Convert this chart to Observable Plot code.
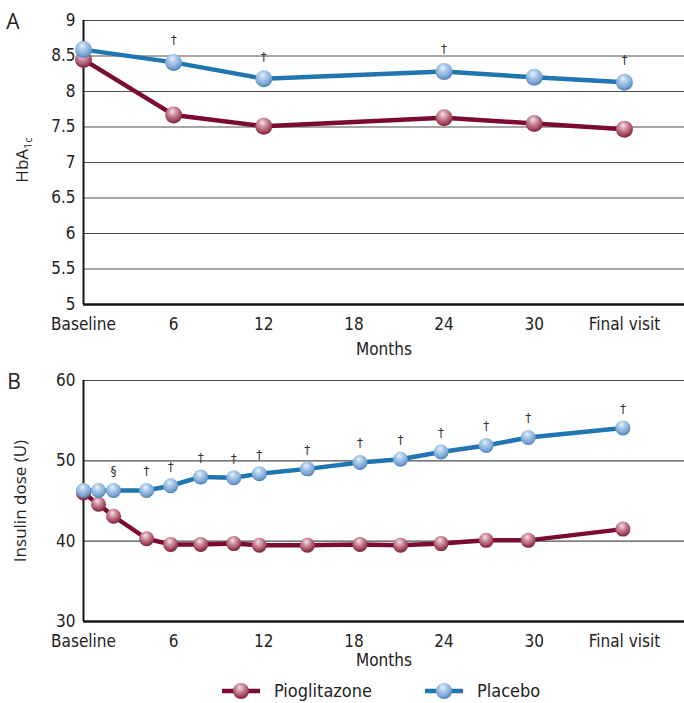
<!DOCTYPE html>
<html>
<head>
<meta charset="utf-8">
<script src="https://cdn.jsdelivr.net/npm/d3@7"></script>
<script src="https://cdn.jsdelivr.net/npm/@observablehq/plot@0.6"></script>
<style>
  body { margin: 0; background: #fff; }
  #chart { position: relative; width: 684px; height: 703px; background: #fff; overflow: hidden; }
  #chart svg { display: block; }
  .legend { position: absolute; left: 0; top: 675px; width: 684px; height: 28px;
    font-family: "Liberation Sans Narrow", "DejaVu Sans Condensed", "Open Sans", sans-serif; font-size: 18px; color: #222; }
  .legend .item { position: absolute; top: 5px; display: flex; align-items: center; }
  .legend .item span { margin-left: 14px; }
</style>
</head>
<body>
<svg width="0" height="0" style="position:absolute">
  <defs>
    <radialGradient id="gradRed" cx="0.45" cy="0.35" r="0.7" fx="0.42" fy="0.28">
      <stop offset="0%" stop-color="#f8e4e8"/>
      <stop offset="30%" stop-color="#d29aa7"/>
      <stop offset="70%" stop-color="#a44a60"/>
      <stop offset="100%" stop-color="#6f1232"/>
    </radialGradient>
    <radialGradient id="gradBlue" cx="0.45" cy="0.35" r="0.7" fx="0.42" fy="0.28">
      <stop offset="0%" stop-color="#eaf3fc"/>
      <stop offset="30%" stop-color="#b0cdea"/>
      <stop offset="70%" stop-color="#7aa6d4"/>
      <stop offset="100%" stop-color="#3b72b0"/>
    </radialGradient>
  </defs>
</svg>
<div id="chart"></div>
<script>
// ---- Data ----
const xTickValues = [0, 6, 12, 18, 24, 30, 36];
const xTickLabels = ["Baseline", "6", "12", "18", "24", "30", "Final visit"];

// Panel A: HbA1c
const monthsA = [0, 6, 12, 24, 30, 36];
const hba1cPioglitazone = [8.45, 7.67, 7.51, 7.63, 7.55, 7.47];
const hba1cPlacebo = [8.59, 8.41, 8.18, 8.28, 8.20, 8.13];
const sigA = ["", "†", "†", "†", "", "†"];
const yTicksA = [5, 5.5, 6, 6.5, 7, 7.5, 8, 8.5, 9];

// Panel B: Insulin dose (U)
const monthsB = [0, 1, 2, 4.2, 5.8, 7.8, 10, 11.7, 14.9, 18.4, 21.1, 23.8, 26.8, 29.6, 35.9];
const insulinPioglitazone = [46.0, 44.6, 43.1, 40.3, 39.6, 39.6, 39.7, 39.5, 39.5, 39.6, 39.5, 39.7, 40.1, 40.1, 41.5];
const insulinPlacebo = [46.3, 46.3, 46.3, 46.3, 46.9, 48.0, 47.9, 48.4, 49.0, 49.8, 50.2, 51.1, 51.9, 52.9, 54.1];
const sigB = ["", "", "§", "†", "†", "†", "†", "†", "†", "†", "†", "†", "†", "†", "†"];
const yTicksB = [30, 40, 50, 60];

const seriesNames = ["Pioglitazone", "Placebo"];
const seriesColors = ["#7b0b34", "#1f76b0"];
const seriesGrads = ["url(#gradRed)", "url(#gradBlue)"];

// ---- Build tables ----
const dataA = monthsA.map((m, i) => ({month: m, pio: hba1cPioglitazone[i], placebo: hba1cPlacebo[i], sig: sigA[i]}));
const dataB = monthsB.map((m, i) => ({month: m, pio: insulinPioglitazone[i], placebo: insulinPlacebo[i], sig: sigB[i]}));

const tickFont = '"Liberation Sans Narrow", "DejaVu Sans Condensed", "Open Sans", sans-serif';
const labelFont = '"Open Sans", "Liberation Sans", sans-serif';
const xFormat = d => xTickLabels[xTickValues.indexOf(d)];

function panel(data, opts) {
  return Plot.plot({
    width: 684,
    height: opts.height,
    marginLeft: 83,
    marginRight: 0,
    marginTop: opts.marginTop,
    marginBottom: opts.marginBottom,
    style: {fontFamily: tickFont, fontSize: "17px", color: "#222", background: "transparent", overflow: "visible"},
    x: {domain: [0, 40], ticks: xTickValues, tickFormat: xFormat, tickSize: 0, tickPadding: 13,
        label: "Months", labelAnchor: "center", labelOffset: opts.xLabelOffset, labelArrow: "none"},
    y: {domain: opts.yDomain, ticks: opts.yTicks, tickFormat: d => String(d), tickSize: 0, tickPadding: 8,
        label: opts.yLabel, labelAnchor: "center", labelOffset: 70, labelArrow: "none"},
    marks: [
      Plot.gridY(opts.yTicks, {stroke: "#3a3a3a", strokeOpacity: 0.9, strokeWidth: 1.2}),
      Plot.ruleX([0], {y1: opts.yDomain[0], y2: opts.yDomain[1], stroke: "#151515", strokeWidth: 2}),
      Plot.ruleY([opts.yDomain[0]], {stroke: "#151515", strokeWidth: 2.5}),
      Plot.line(data, {x: "month", y: "pio", stroke: seriesColors[0], strokeWidth: 4.5}),
      Plot.dot(data, {x: "month", y: "pio", r: opts.r, fill: seriesGrads[0], stroke: "none"}),
      Plot.line(data, {x: "month", y: "placebo", stroke: seriesColors[1], strokeWidth: 4.5}),
      Plot.dot(data, {x: "month", y: "placebo", r: opts.r, fill: seriesGrads[1], stroke: "none"}),
      Plot.text(data, {x: "month", y: "placebo", text: "sig", dy: opts.sigDy, fontSize: 12, fill: "#333",
        fontFamily: '"DejaVu Sans", sans-serif'})
    ]
  });
}

const chart = document.getElementById("chart");

const plotA = panel(dataA, {height: 365, marginTop: 20, marginBottom: 61, yDomain: [5, 9], yTicks: yTicksA,
  yLabel: null, r: 8.5, sigDy: -22, xLabelOffset: 50});
const plotB = panel(dataB, {height: 310, marginTop: 15, marginBottom: 54, yDomain: [30, 60], yTicks: yTicksB,
  yLabel: "Insulin dose (U)", r: 7.5, sigDy: -19, xLabelOffset: 44});

chart.appendChild(plotA);
chart.appendChild(plotB);

// Regular font for the y label of B
d3.select(plotB).selectAll("g[aria-label='y-axis label'] text").attr("font-family", labelFont).attr("font-size", 17);

// Panel letters and HbA1c label
const sA = d3.select(plotA);
sA.append("text").attr("x", 13).attr("y", 29).attr("font-family", labelFont).attr("font-size", 21).attr("fill", "#222").text("A");
const yl = sA.append("text").attr("transform", "translate(28,160) rotate(-90)").attr("text-anchor", "middle")
  .attr("font-family", labelFont).attr("font-size", 17).attr("fill", "#222");
yl.append("tspan").text("HbA");
yl.append("tspan").attr("font-size", 11).attr("dy", 4).text("1c");
d3.select(plotB).append("text").attr("x", 14).attr("y", 24).attr("font-family", labelFont).attr("font-size", 21).attr("fill", "#222").text("B");

// Legend
const legend = document.createElement("div");
legend.className = "legend";
const legendLefts = [222, 425];
seriesNames.forEach((name, i) => {
  const item = document.createElement("div");
  item.className = "item";
  item.style.left = legendLefts[i] + "px";
  const sw = d3.create("svg").attr("width", 38).attr("height", 20);
  sw.append("line").attr("x1", 0).attr("x2", 38).attr("y1", 10).attr("y2", 10).attr("stroke", seriesColors[i]).attr("stroke-width", 4.5);
  sw.append("circle").attr("cx", 19).attr("cy", 10).attr("r", 8).attr("fill", seriesGrads[i]);
  item.appendChild(sw.node());
  const t = document.createElement("span");
  t.textContent = name;
  item.appendChild(t);
  legend.appendChild(item);
});
chart.appendChild(legend);
</script>
</body>
</html>
